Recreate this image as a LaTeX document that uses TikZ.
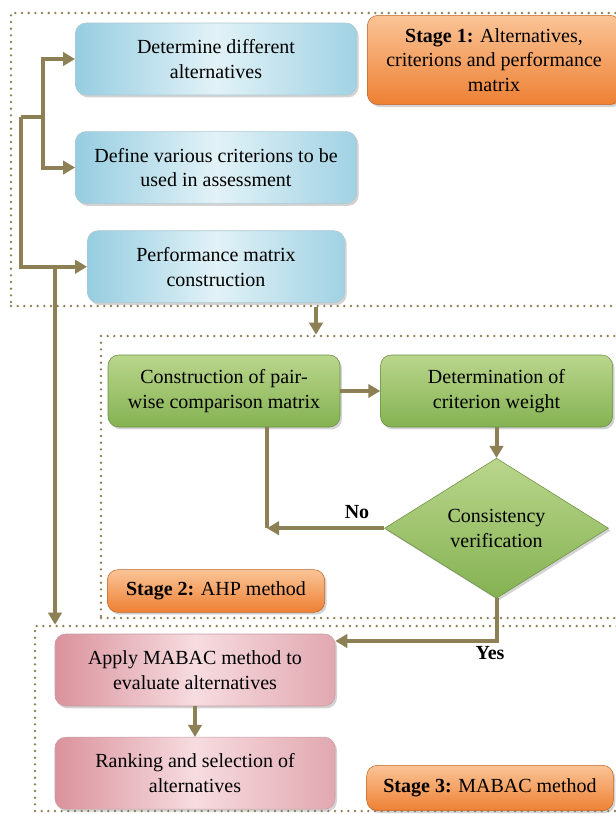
\documentclass[tikz,border=0pt]{standalone}
\usepackage{fontspec}
\setmainfont{Liberation Serif}
\usepackage{tikz}
\usetikzlibrary{arrows.meta,positioning,fit,calc,shapes.geometric,shadows}

\definecolor{olv}{RGB}{140,128,84}
\definecolor{blA}{RGB}{150,205,224}
\definecolor{blB}{RGB}{226,242,247}
\definecolor{grA}{RGB}{132,178,82}
\definecolor{grB}{RGB}{186,214,140}
\definecolor{pkA}{RGB}{218,146,156}
\definecolor{pkB}{RGB}{246,220,224}
\definecolor{orA}{RGB}{238,128,52}
\definecolor{orB}{RGB}{250,196,150}

\begin{document}
\begin{tikzpicture}[
  x=0.75pt, y=-0.75pt,
  font=\rmfamily\fontsize{15}{18.5}\selectfont,
  box/.style={rounded corners=8pt, align=center, inner sep=3pt,
    drop shadow={opacity=0.35, shadow xshift=1.5pt, shadow yshift=-1.8pt}},
  blbox/.style={box, draw=blA!80!black!60, left color=blA, right color=blA!90, middle color=blB,
    minimum width=211pt, minimum height=54pt},
  grbox/.style={box, draw=grA!80!black, top color=grB, bottom color=grA,
    minimum width=174pt, minimum height=54pt},
  pkbox/.style={box, draw=pkA!80!black!70, left color=pkA, right color=pkA!80, middle color=pkB,
    minimum width=210pt, minimum height=54pt},
  stbox/.style={box, draw=orA!80!black, top color=orB, bottom color=orA},
  frame/.style={draw=olv, line width=2pt, dash pattern=on 0pt off 5pt, line cap=round, inner sep=0pt},
  arr/.style={-{Triangle[length=9pt,width=10pt]}, line width=3pt, draw=olv},
  ln/.style={line width=3pt, draw=olv}
]
\useasboundingbox (0,0) rectangle (615,814);

% stage frames
\node[frame, fit={(11,13) (640,306)}] (f1) {};
\node[frame, fit={(101,336) (640,618)}] (f2) {};
\node[frame, fit={(35,626) (640,811)}] (f3) {};

% stage 1
\node[blbox] (b1) at (216,59) {Determine different\\alternatives};
\node[blbox, below=27pt of b1] (b2) {Define various criterions to be\\used in assessment};
\node[blbox, below=20pt of b2, minimum width=193pt] (b3) {Performance matrix\\construction};
\node[stbox, minimum width=190pt, minimum height=67pt] (s1) at (494,60)
  {\textbf{Stage 1:} Alternatives,\\criterions and performance\\matrix};

% stage 2
\node[grbox] (g1) at (224,391) {Construction of pair-\\wise comparison matrix};
\node[grbox, right=30pt of g1] (g2) {Determination of\\criterion weight};
\node[diamond, draw=grA!80!black, top color=grB, bottom color=grA, align=center,
  inner sep=0pt, minimum width=168pt, minimum height=105pt,
  drop shadow={opacity=0.35, shadow xshift=1.5pt, shadow yshift=-1.8pt},
  below=23pt of g2] (cv) {Consistency\\verification};
\node[stbox, minimum width=163pt, minimum height=32pt] (s2) at (216,591) {\textbf{Stage 2:} AHP method};

% stage 3
\node[pkbox] (p1) at (195,670) {Apply MABAC method to\\evaluate alternatives};
\node[pkbox, below=23pt of p1] (p2) {Ranking and selection of\\alternatives};
\node[stbox, minimum width=185pt, minimum height=34pt] (s3) at (490,788) {\textbf{Stage 3:} MABAC method};

% connectors
\coordinate (tr1) at (43,117);
\coordinate (tr0) at (21,117);
\coordinate (dn) at (55,0);
\coordinate (k12) at (316,0);
\coordinate (nox) at (267,0);
\draw[ln] (tr0) -- (tr1);
\draw[arr] (tr1) |- (b1.west);
\draw[arr] (tr1) |- (b2.west);
\draw[arr] (tr0) |- (b3.west);
\draw[arr] (b3.west -| dn) -- (f3.north -| dn);
\draw[arr] (f1.south -| k12) -- (f2.north -| k12);
\draw[arr] (g1) -- (g2);
\draw[arr] (g2) -- (cv);
\draw[ln] (g1.south -| nox) -- (cv.west -| nox);
\draw[arr] (cv.west) -- (cv.west -| nox);
\draw[arr] (cv.south) |- ($(p1.north east)!0.1!(p1.south east)$);
\draw[arr] (p1) -- (p2);

\node[font=\rmfamily\fontsize{15}{18}\selectfont\bfseries] (no) at (357,512) {No};
\node[font=\rmfamily\fontsize{15}{18}\selectfont\bfseries] (yes) at (490,653) {Yes};
\end{tikzpicture}
\end{document}
